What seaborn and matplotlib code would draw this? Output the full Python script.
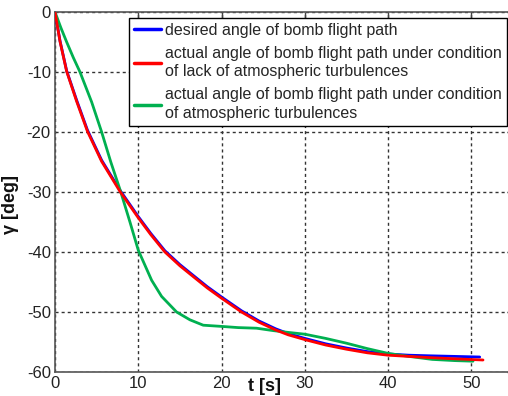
import numpy as np
import pandas as pd
import matplotlib
matplotlib.use("Agg")
import matplotlib.pyplot as plt
import seaborn as sns

# ---- data ----
t_desired = [0, 0.6, 1.4, 2.6, 3.9, 5.6, 7.8, 10.0, 11.5, 13.2, 15.0, 16.6, 18.3, 20.0, 22.4, 24.5, 26.5, 28.0, 30.0, 32.5, 35.0, 37.5, 40.0, 42.5, 45.0, 48.0, 51.0]
y_desired = [0, -4.8, -9.8, -14.7, -19.7, -24.7, -29.7, -34.1, -36.9, -39.8, -42.1, -43.9, -45.8, -47.5, -49.8, -51.5, -52.8, -53.6, -54.4, -55.3, -56.0, -56.6, -57.0, -57.2, -57.3, -57.4, -57.5]

t_actual = [0, 0.6, 1.4, 2.6, 3.9, 5.6, 7.8, 10.0, 11.5, 13.2, 15.0, 16.6, 18.3, 20.0, 22.4, 24.5, 26.5, 28.0, 30.0, 32.5, 35.0, 37.5, 40.0, 42.5, 45.0, 48.0, 51.4]
y_actual = [0, -4.9, -9.9, -14.9, -19.9, -24.9, -29.9, -34.3, -37.1, -40.0, -42.3, -44.1, -46.0, -47.7, -50.0, -51.7, -53.0, -53.8, -54.6, -55.5, -56.2, -56.8, -57.2, -57.4, -57.6, -57.8, -58.0]

t_turb = [0, 0.7, 1.4, 2.2, 3.0, 4.4, 5.6, 6.7, 7.9, 9.0, 10.0, 11.6, 12.8, 14.6, 16.2, 17.8, 20.0, 22.0, 24.2, 26.2, 28.0, 30.0, 32.5, 35.0, 37.5, 40.0, 42.5, 45.3, 48.0, 50.2]
y_turb = [0, -2.6, -5.0, -7.6, -10.0, -15.0, -20.0, -25.0, -30.0, -35.0, -39.7, -44.7, -47.4, -50.0, -51.3, -52.2, -52.4, -52.6, -52.7, -53.1, -53.4, -53.7, -54.4, -55.2, -56.1, -56.9, -57.4, -57.9, -58.1, -58.2]

labels = [
    "desired angle of bomb flight path",
    "actual angle of bomb flight path under condition\nof lack of atmospheric turbulences",
    "actual angle of bomb flight path under condition\nof atmospheric turbulences",
]
colors = ["#0000ff", "#ff0000", "#00b050"]

x_ticks = [0, 10, 20, 30, 40, 50]
y_ticks = [0, -10, -20, -30, -40, -50, -60]

sns.set_style("white")
plt.rcParams["font.family"] = ["Liberation Sans", "DejaVu Sans"]
plt.rcParams["axes.unicode_minus"] = False

fig = plt.figure(figsize=(5.08, 3.96), dpi=100)
ax = fig.add_axes([55 / 508, 1 - 372 / 396, 458 / 508, 360 / 396])

series = [(t_desired, y_desired), (t_actual, y_actual), (t_turb, y_turb)]
for (tt, yy), lab, col, z in zip(series, labels, colors, [3, 4, 3.5]):
    df = pd.DataFrame({"t": tt, "y": yy})
    sns.lineplot(data=df, x="t", y="y", ax=ax, color=col, linewidth=2.0,
                 label=lab, zorder=z, sort=False)

ax.set_xlim(0, 55)
ax.set_ylim(-60, 0)
ax.set_xticks(x_ticks)
ax.set_yticks(y_ticks)
ax.tick_params(axis="both", direction="in", length=4, width=1, color="#444444",
               labelsize=12, labelcolor="#222222", top=True, right=True, pad=3)
for s in ax.spines.values():
    s.set_color("#555555")
    s.set_linewidth(1.2)

ax.grid(True, color="#333333", linestyle=(0, (2.2, 2.2)), linewidth=1.0)

ax.set_xlabel("t [s]", fontsize=13, fontweight="bold", color="#111111")
ax.set_ylabel("γ [deg]", fontsize=13, fontweight="bold", color="#111111")
ax.xaxis.set_label_coords((265 - 55) / 458, (372 - 378) / 360)
ax.yaxis.set_label_coords((19 - 55) / 458, (372 - 204) / 360)

leg = ax.legend(loc="upper right", bbox_to_anchor=((507 - 55) / 458, (372 - 18) / 360),
                borderaxespad=0, fontsize=11.5, frameon=True, fancybox=False,
                edgecolor="black", framealpha=1, handlelength=1.7,
                handletextpad=0.3, labelspacing=0.5, borderpad=0.3)
leg.get_frame().set_linewidth(1.0)
for txt in leg.get_texts():
    txt.set_linespacing(1.3)
for line in leg.get_lines():
    line.set_linewidth(2.5)

fig.savefig("out.png", dpi=100)
